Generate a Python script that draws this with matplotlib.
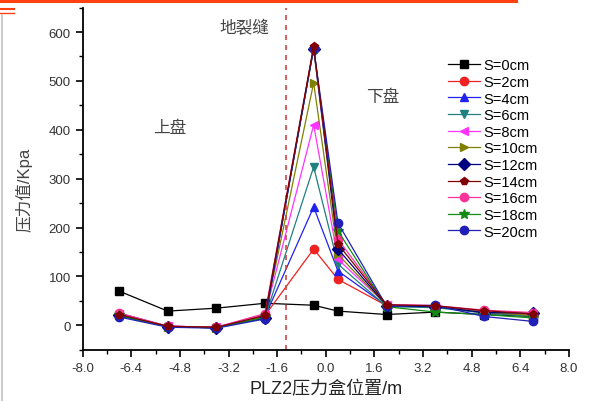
import numpy as np
import matplotlib.pyplot as plt
from matplotlib.lines import Line2D

# box positions (m) and pressure values (Kpa)
pos = [-6.8, -5.2, -3.6, -2.0, -0.4, 0.4, 2.0, 3.6, 5.2, 6.8]

s0 = [70, 29, 35, 45, 41, 29, 22, 27, 22, 18]
s2 = [22, -2, -4, 20, 156, 94, 40, 38, 28, 20]
s4 = [25, -2, -4, 18, 242, 111, 40, 38, 26, 22]
s6 = [20, -3, -5, 16, 324, 125, 38, 36, 25, 18]
s8 = [24, -2, -4, 22, 410, 135, 42, 40, 28, 22]
s10 = [22, -3, -5, 18, 496, 145, 40, 38, 27, 20]
s12 = [20, -3, -5, 15, 566, 156, 40, 38, 26, 25]
s14 = [22, -2, -4, 20, 571, 166, 42, 40, 30, 23]
s16 = [25, -2, -4, 24, 568, 176, 42, 40, 31, 26]
s18 = [20, -3, -5, 16, 566, 193, 38, 27, 22, 15]
s20 = [17, -4, -6, 13, 567, 209, 39, 41, 18, 8]

labels = ["S=0cm", "S=2cm", "S=4cm", "S=6cm", "S=8cm", "S=10cm",
          "S=12cm", "S=14cm", "S=16cm", "S=18cm", "S=20cm"]
series = [s0, s2, s4, s6, s8, s10, s12, s14, s16, s18, s20]
colors = ["#000000", "#ee2222", "#2222ee", "#208080", "#ff33ff", "#808000",
          "#000080", "#800000", "#ff3399", "#138a13", "#2020b8"]
markers = ["s", "o", "^", "v", "<", ">", "D", "p", "o", "*", "o"]

xtick_vals = [-8.0, -6.4, -4.8, -3.2, -1.6, 0.0, 1.6, 3.2, 4.8, 6.4, 8.0]
xtick_text = ["-8.0", "-6.4", "-4.8", "-3.2", "-1.6", "0.0", "1.6", "3.2", "4.8", "6.4", "8.0"]

fault_x = -1.3

plt.rcParams['font.family'] = ['Liberation Sans', 'Noto Sans CJK SC']

fig = plt.figure(figsize=(5.94, 4.02), dpi=100)
ax = fig.add_axes([0.139, 0.1276, 0.819, 0.851])

for y, lab, c, m in zip(series, labels, colors, markers):
    ms = 7.5 if m == "*" else 6
    z = 3 if lab == "S=14cm" else 2
    ax.plot(pos, y, color=c, marker=m, markersize=ms, linewidth=0.9,
            markeredgecolor=c, label=lab, zorder=z)

ax.axvline(fault_x, color="#d04545", linestyle=(0, (3, 3)), linewidth=1.2)

ax.set_xlim(-8, 8)
ax.set_ylim(-50, 650)
ax.set_xticks(xtick_vals)
ax.set_xticklabels(xtick_text)
ax.set_xticks(np.arange(-7.2, 8.0, 1.6), minor=True)
ax.set_yticks(np.arange(0, 601, 100))
ax.set_yticks(np.arange(-50, 651, 100), minor=True)

for s in ["top", "right"]:
    ax.spines[s].set_visible(False)
for s in ["left", "bottom"]:
    ax.spines[s].set_linewidth(1.3)
ax.tick_params(which="major", direction="out", length=5, width=1.2,
               labelsize=9.5, labelcolor="#333333")
ax.tick_params(which="minor", direction="out", length=3, width=1.0)

ax.set_xlabel("PLZ2压力盒位置/m", fontsize=13, color="#222222", labelpad=5)
ax.set_ylabel("压力值/Kpa", fontsize=12, color="#444444")
ax.yaxis.set_label_coords(-0.102, 0.47)

ax.text(-2.67, 610, "地裂缝", fontsize=12, color="#444444", ha="center", va="center")
ax.text(-5.14, 405, "上盘", fontsize=12, color="#444444", ha="center", va="center")
ax.text(1.87, 469, "下盘", fontsize=12, color="#444444", ha="center", va="center")

ax.legend(loc="upper left", bbox_to_anchor=(0.737, 0.878),
          bbox_transform=fig.transFigure, frameon=False, fontsize=10.5,
          handlelength=2.2, handletextpad=0.25, labelspacing=0.18,
          borderpad=0.2, markerscale=1.0)

# screenshot frame bits
fig.add_artist(Line2D([0, 0.868], [0.995, 0.995], color="#ff4010",
                      linewidth=2.2, transform=fig.transFigure))
fig.add_artist(Line2D([0, 0.024], [0.975, 0.975], color="#ff4010",
                      linewidth=1.5, transform=fig.transFigure))
fig.add_artist(Line2D([0, 0.024], [0.965, 0.965], color="#ff4010",
                      linewidth=1.0, transform=fig.transFigure))
fig.add_artist(Line2D([0.004, 0.004], [0, 0.96], color="#cccccc",
                      linewidth=1.5, transform=fig.transFigure))

fig.savefig("out.png", dpi=100)
